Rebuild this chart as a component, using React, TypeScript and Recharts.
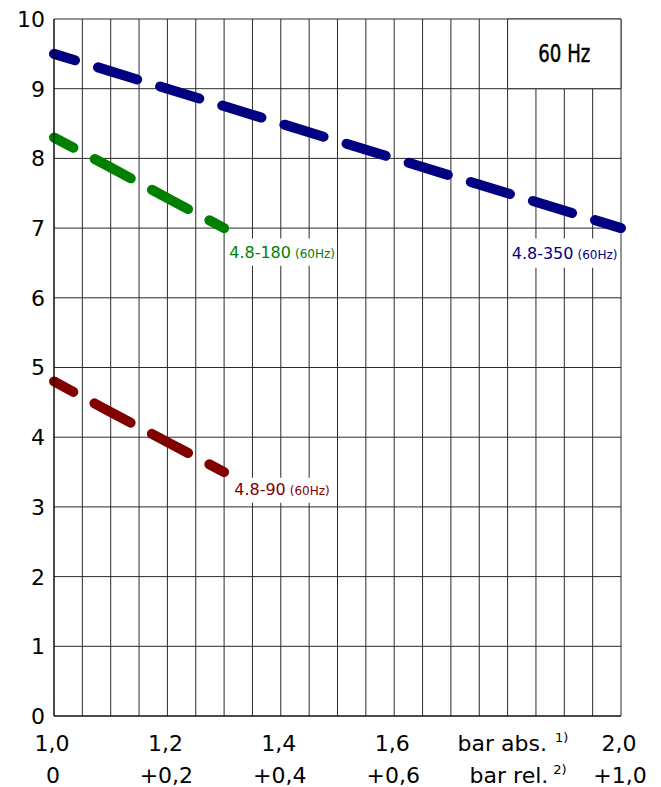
import { LineChart, Line, XAxis, YAxis, CartesianGrid, ReferenceArea } from 'recharts';

const FONT = '"DejaVu Sans", sans-serif';

// Raster der x-Achse (alle 0,05 bar)
const gridTicks = [
  1.0, 1.05, 1.1, 1.15, 1.2, 1.25, 1.3, 1.35, 1.4, 1.45, 1.5,
  1.55, 1.6, 1.65, 1.7, 1.75, 1.8, 1.85, 1.9, 1.95, 2.0,
];
const labelTicks = [1.0, 1.2, 1.4, 1.6, 1.8, 2.0];
const absLabels = ['1,0', '1,2', '1,4', '1,6', 'bar abs.', '2,0'];
const relLabels = ['0', '+0,2', '+0,4', '+0,6', 'bar rel.', '+1,0'];
const yTicks = [0, 1, 2, 3, 4, 5, 6, 7, 8, 9, 10];

// Kennlinien (60 Hz)
const x350 = [1.0, 1.2, 1.4, 1.6, 1.8, 2.0];
const y350 = [9.5, 9.0, 8.5, 8.0, 7.5, 7.0];
const x180 = [1.0, 1.1, 1.2, 1.3];
const y180 = [8.3, 7.87, 7.43, 7.0];
const x90 = [1.0, 1.1, 1.2, 1.3];
const y90 = [4.8, 4.36, 3.93, 3.5];

const toPoints = (xs: number[], ys: number[]) => xs.map((x, i) => ({ x, y: ys[i] }));

const series = [
  { name: '4.8-350', color: '#000080', data: toPoints(x350, y350) },
  { name: '4.8-180', color: '#008000', data: toPoints(x180, y180) },
  { name: '4.8-90', color: '#800000', data: toPoints(x90, y90) },
];

function PressureTick({ x, payload }: any) {
  const i = labelTicks.findIndex(t => Math.abs(t - payload.value) < 1e-6);
  if (i < 0) return <g />;
  if (absLabels[i].startsWith('bar')) {
    return (
      <g fontFamily={FONT} fill="#000">
        <text x={x - 50} y={751} fontSize={22}>
          {absLabels[i]}
          <tspan dx={8} dy={-9} fontSize={13}>1)</tspan>
        </text>
        <text x={x - 38} y={783} fontSize={22}>
          {relLabels[i]}
          <tspan dx={5} dy={-9} fontSize={13}>2)</tspan>
        </text>
      </g>
    );
  }
  return (
    <g fontFamily={FONT} fill="#000" fontSize={22}>
      <text x={x - 2} y={751} textAnchor="middle">{absLabels[i]}</text>
      <text x={x - 1} y={783} textAnchor="middle">{relLabels[i]}</text>
    </g>
  );
}

function FlowTick({ y, payload }: any) {
  return (
    <text x={45} y={y} dy="0.36em" textAnchor="end" fontFamily={FONT} fontSize={22} fill="#000">
      {payload.value}
    </text>
  );
}

function SeriesLabel({ viewBox, name, color, dx, dy }: any) {
  if (!viewBox) return null;
  return (
    <text x={viewBox.x + dx} y={viewBox.y + dy} fill={color} fontFamily={FONT} fontSize={16}>
      {name}
      <tspan dx={4} fontSize={12}>(60Hz)</tspan>
    </text>
  );
}

function FreqLabel({ viewBox }: any) {
  if (!viewBox) return null;
  return (
    <text
      x={viewBox.x + viewBox.width / 2}
      y={viewBox.y + 43}
      textAnchor="middle"
      fontFamily={FONT}
      fontSize={25}
      textLength={52}
      lengthAdjust="spacingAndGlyphs"
      stroke="#000"
      strokeWidth={0.5}
      fill="#000"
    >
      60 Hz
    </text>
  );
}

export default function App() {
  return (
    <div style={{ position: 'absolute', left: 0, top: 0, background: '#fff' }}>
      <LineChart width={661} height={787} margin={{ top: 19, right: 40, bottom: 11, left: 0 }}>
        <CartesianGrid stroke="#2a2a2a" />
        <XAxis
          dataKey="x"
          type="number"
          domain={[1, 2]}
          ticks={gridTicks}
          interval={0}
          tickLine={false}
          axisLine={{ stroke: '#000' }}
          height={60}
          tick={<PressureTick />}
        />
        <YAxis
          type="number"
          domain={[0, 10]}
          ticks={yTicks}
          interval={0}
          width={54}
          tickLine={false}
          axisLine={{ stroke: '#000' }}
          tick={<FlowTick />}
        />
        <ReferenceArea
          x1={1.8}
          x2={2.0}
          y1={9}
          y2={10}
          fill="#fff"
          fillOpacity={1}
          stroke="#2a2a2a"
          label={<FreqLabel />}
        />
        <ReferenceArea
          x1={1.802}
          x2={1.998}
          y1={6.43}
          y2={6.85}
          fill="#fff"
          fillOpacity={1}
          label={<SeriesLabel name={series[0].name} color={series[0].color} dx={3} dy={20} />}
        />
        <ReferenceArea
          x1={1.302}
          x2={1.498}
          y1={6.46}
          y2={6.85}
          fill="#fff"
          fillOpacity={1}
          label={<SeriesLabel name={series[1].name} color={series[1].color} dx={4} dy={19} />}
        />
        <ReferenceArea
          x1={1.302}
          x2={1.498}
          y1={3.06}
          y2={3.42}
          fill="#fff"
          fillOpacity={1}
          label={<SeriesLabel name={series[2].name} color={series[2].color} dx={9} dy={17} />}
        />
        {series.map(s => (
          <Line
            key={s.name}
            data={s.data}
            dataKey="y"
            type="linear"
            stroke={s.color}
            strokeWidth={10}
            strokeDasharray="41 24"
            strokeDashoffset={19}
            strokeLinecap="round"
            dot={false}
            activeDot={false}
            isAnimationActive={false}
          />
        ))}
      </LineChart>
    </div>
  );
}
